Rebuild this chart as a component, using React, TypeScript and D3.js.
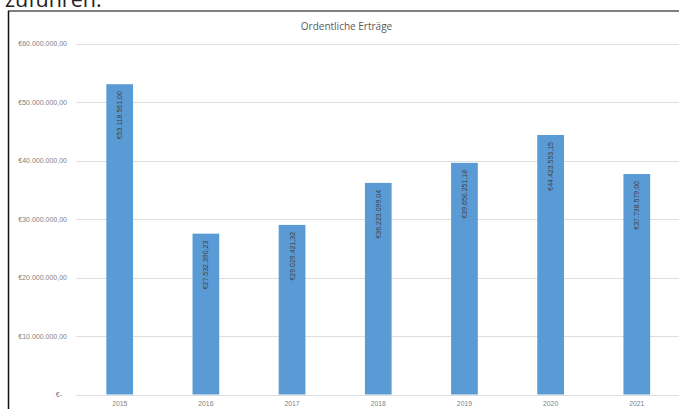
import React from "react";
import * as d3 from "d3";

const years: string[] = ["2015", "2016", "2017", "2018", "2019", "2020", "2021"];
const values: number[] = [53118561.0, 27532390.23, 29029421.32, 36223099.04, 39650251.18, 44423553.15, 37738579.0];
const yTicks: number[] = [0, 10000000, 20000000, 30000000, 40000000, 50000000, 60000000];
const title = "Ordentliche Erträge";
const topText = "zuführen.";

const W = 679;
const H = 409;

const de = d3.formatLocale({
  decimal: ",",
  thousands: ".",
  grouping: [3],
  currency: ["€", ""],
});
const fmt = de.format("$,.2f");
const tickFmt = (v: number) => (v === 0 ? "€-" : fmt(v));

export default function App() {
  const x = d3
    .scaleBand<string>()
    .domain(years)
    .range([76.6, 679.9])
    .paddingInner(0.69)
    .paddingOuter(0.345);
  const y = d3.scaleLinear().domain([0, 60000000]).range([394.5, 44]);
  const font = "'Liberation Sans', Arial, sans-serif";

  return (
    <svg
      width={W}
      height={H}
      style={{ position: "absolute", left: 0, top: 0, background: "#fff" }}
      fontFamily={font}
    >
      <rect x={0} y={0} width={W} height={H} fill="#fff" />
      <text x={5} y={7} fontSize={21.5} fill="#222" fontFamily="'Open Sans', sans-serif">
        {topText}
      </text>
      <line x1={8} x2={W} y1={11} y2={11} stroke="#555" strokeWidth={1.5} />
      <line x1={8.5} x2={8.5} y1={11} y2={H} stroke="#111" strokeWidth={1.5} />

      <text x={346.5} y={30} fontSize={10} fill="#595959" textAnchor="middle" fontFamily="'Open Sans', sans-serif">
        {title}
      </text>

      {yTicks.map((t) => (
        <g key={t}>
          <line x1={76.6} x2={W} y1={Math.round(y(t)) + 0.5} y2={Math.round(y(t)) + 0.5} stroke="#dedede" strokeWidth={1} />
          <text
            x={t === 0 ? 62 : 67}
            y={y(t)}
            dy="0.35em"
            fontSize={7}
            fill="#7f7f7f"
            textAnchor="end"
          >
            {tickFmt(t)}
          </text>
        </g>
      ))}

      {years.map((yr, i) => {
        const bx = x(yr) as number;
        const bw = x.bandwidth();
        const top = y(values[i]);
        const cx = bx + bw / 2;
        const ly = top + 7;
        return (
          <g key={yr}>
            <rect x={bx} y={top} width={bw} height={y(0) - top} fill="#5b9bd5" />
            <text
              transform={`translate(${cx},${ly}) rotate(-90)`}
              fontSize={7}
              fill="#404040"
              textAnchor="end"
              dy="0.35em"
            >
              {fmt(values[i])}
            </text>
            <text x={cx} y={404} dy="0.35em" fontSize={6.8} fill="#7f7f7f" textAnchor="middle">
              {yr}
            </text>
          </g>
        );
      })}
    </svg>
  );
}
